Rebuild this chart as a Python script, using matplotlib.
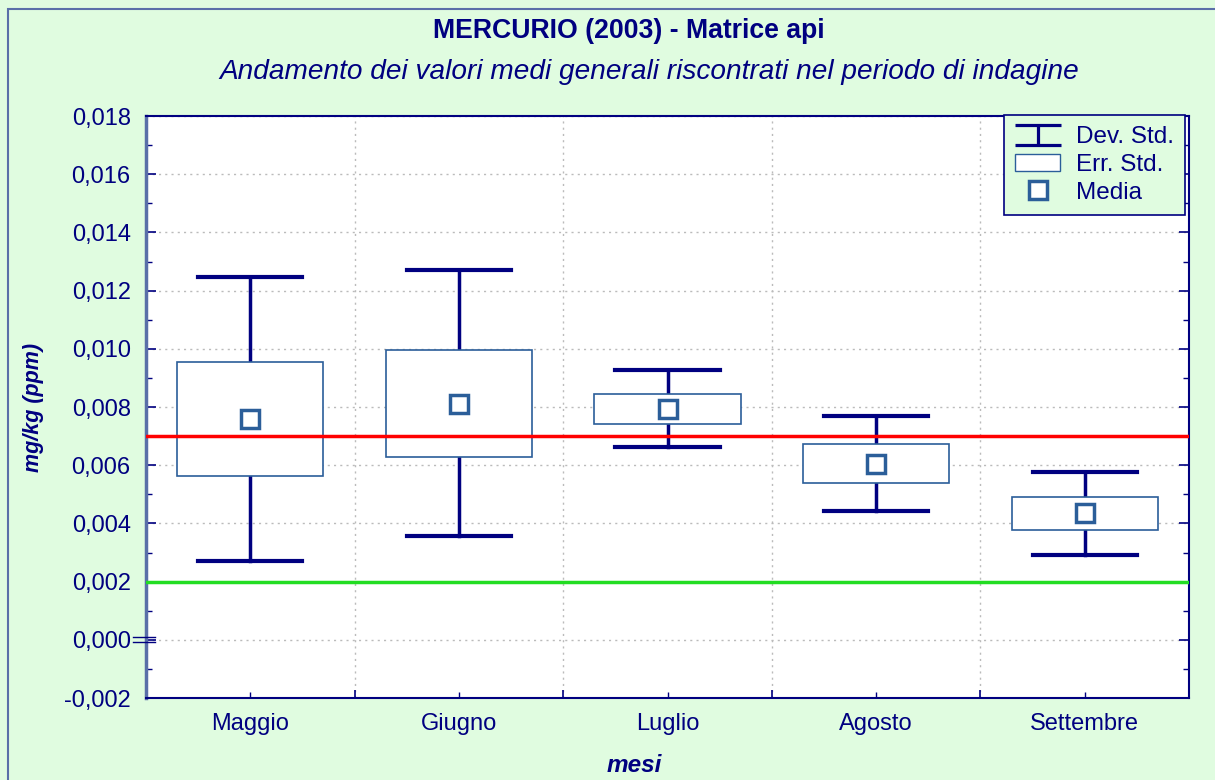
import numpy as np
import matplotlib
matplotlib.use('Agg')
from matplotlib import pyplot as plt
from matplotlib.lines import Line2D
from matplotlib.patches import Patch, Rectangle
from matplotlib.path import Path
from matplotlib.ticker import FixedLocator, FuncFormatter
import matplotlib.transforms as mtransforms

plt.rcParams['font.family'] = ['Liberation Sans', 'DejaVu Sans']

mesi = ['Maggio', 'Giugno', 'Luglio', 'Agosto', 'Settembre']
media = [0.00759, 0.00810, 0.00793, 0.00604, 0.00436]
err_lo = [0.00563, 0.00628, 0.00742, 0.00539, 0.00377]
err_hi = [0.00955, 0.00996, 0.00845, 0.00673, 0.00490]
dev_lo = [0.00271, 0.00357, 0.00663, 0.00443, 0.00291]
dev_hi = [0.01247, 0.01271, 0.00927, 0.00769, 0.00577]
limite_alto = 0.007
limite_basso = 0.002

navy = '#000080'
boxc = '#2B5E99'
bg = '#E0FCE0'
W, H = 1215, 780

fig = plt.figure(figsize=(W / 100, H / 100), dpi=100, facecolor=bg)
ax = fig.add_axes([146 / W, 1 - 698 / H, (1189 - 146) / W, (698 - 116) / H])
ax.set_facecolor('white')

# outer frame of the chart (clipped at right/bottom like the original)
fig.patches.append(Rectangle((8 / W, -0.01), 1.0, 1 - 9 / H + 0.01,
                             transform=fig.transFigure, fill=False,
                             edgecolor='#5A6FA8', lw=1.5))

x = np.arange(len(mesi))
for i in x:
    ax.plot([i, i], [dev_lo[i], err_lo[i]], color=navy, lw=2.5, zorder=3)
    ax.plot([i, i], [err_hi[i], dev_hi[i]], color=navy, lw=2.5, zorder=3)
    ax.plot([i - 0.25, i + 0.25], [dev_hi[i]] * 2, color=navy, lw=3, zorder=3)
    ax.plot([i - 0.25, i + 0.25], [dev_lo[i]] * 2, color=navy, lw=3, zorder=3)
    ax.add_patch(Rectangle((i - 0.35, err_lo[i]), 0.7, err_hi[i] - err_lo[i],
                           facecolor='white', edgecolor=boxc, lw=1.2, zorder=4))
ax.plot(x, media, 's', ms=12.5, mfc='white', mec=boxc, mew=2.5, ls='none', zorder=5)

ax.axhline(limite_alto, color='#FF0000', lw=2.5, zorder=6)
ax.axhline(limite_basso, color='#22DD22', lw=2.5, zorder=6)

ax.set_xlim(-0.5, 4.5)
ax.set_ylim(-0.002, 0.018)
ax.xaxis.set_major_locator(FixedLocator(np.arange(-0.5, 5, 1.0)))
ax.set_xticklabels([])
ax.set_xticks(x, minor=True)
ax.set_xticklabels(mesi, minor=True)
ax.set_yticks(np.arange(-0.002, 0.0181, 0.002))
ax.set_yticks(np.arange(-0.001, 0.018, 0.002), minor=True)
ax.yaxis.set_major_formatter(FuncFormatter(
    lambda v, p: ('%.3f' % v).replace('.', ',').replace('-0,000', '0,000')))

ax.tick_params(axis='both', which='both', direction='in', colors=navy,
               labelcolor=navy, labelsize=17, top=False, right=True)
ax.tick_params(axis='y', which='major', length=7, width=1.2, pad=11)
ax.tick_params(axis='y', which='minor', length=4, width=1)
ax.tick_params(axis='x', which='major', length=6, width=1.2)
ax.tick_params(axis='x', which='minor', length=4, width=1, pad=11)

ax.grid(True, which='major', color='#BBBBBB', ls=(0, (1.5, 3)), lw=1)
for s in ax.spines.values():
    s.set_color(navy)
    s.set_linewidth(1.5)
ax.spines['left'].set_color('#5A6FA8')
ax.spines['left'].set_linewidth(2.5)

# axis break symbol at zero
tr = mtransforms.blended_transform_factory(ax.transAxes, ax.transData)
for dy in (-0.00008, 0.00008):
    ax.plot([-0.012, 0.009], [dy, dy], color=navy, lw=1.0, transform=tr,
            clip_on=False, zorder=7)

fig.text(629 / W, 1 - 31 / H, 'MERCURIO (2003) - Matrice api', ha='center', va='center',
         fontsize=19.2, fontweight='bold', color=navy)
fig.text(649 / W, 1 - 72 / H, 'Andamento dei valori medi generali riscontrati nel periodo di indagine',
         ha='center', va='center', fontsize=20.2, style='italic', color=navy)
fig.text(33 / W, 1 - 407 / H, 'mg/kg (ppm)', rotation=90, ha='center', va='center',
         fontsize=15.5, fontweight='bold', style='italic', color=navy)
fig.text(634 / W, 1 - 766 / H, 'mesi', ha='center', va='center',
         fontsize=17.5, fontweight='bold', style='italic', color=navy)

ibeam = Path([(-1, 0.42), (1, 0.42), (0, 0.42), (0, -0.42), (-1, -0.42), (1, -0.42)],
             [Path.MOVETO, Path.LINETO, Path.MOVETO, Path.LINETO, Path.MOVETO, Path.LINETO])
handles = [
    Line2D([], [], marker=ibeam, ms=33, mew=2.3, color=navy, ls='none'),
    Patch(facecolor='white', edgecolor=boxc, lw=1),
    Line2D([], [], marker='s', ms=12.5, mfc='white', mec=boxc, mew=2.5, ls='none'),
]
leg = ax.legend(handles, ['Dev. Std.', 'Err. Std.', 'Media'], loc='upper right',
                bbox_to_anchor=(1185 / W, 1 - 115 / H), bbox_transform=fig.transFigure,
                fontsize=17.5, frameon=True, fancybox=False,
                handlelength=1.85, handleheight=0.75, labelspacing=0.22, borderpad=0.45,
                handletextpad=0.65, borderaxespad=0.0)
leg.get_frame().set_facecolor(bg)
leg.get_frame().set_edgecolor(navy)
leg.get_frame().set_linewidth(1.2)
leg.get_frame().set_alpha(1)
for t in leg.get_texts():
    t.set_color(navy)
leg.set_zorder(10)

fig.savefig('out.png', dpi=100, facecolor=bg)
